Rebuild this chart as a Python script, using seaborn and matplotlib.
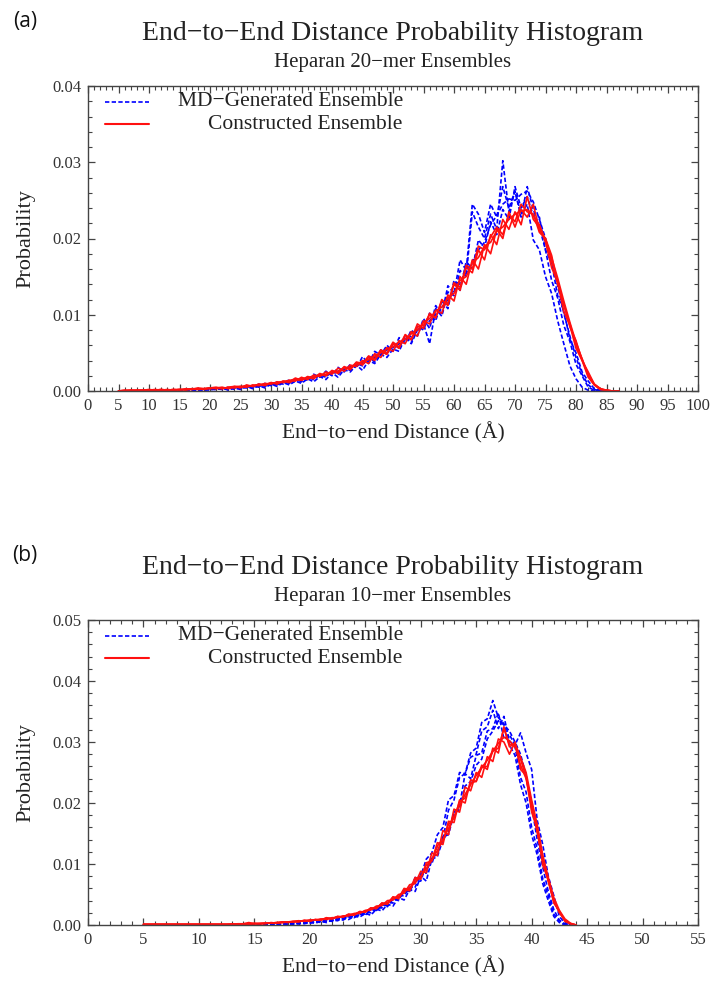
import numpy as np
import pandas as pd
import seaborn as sns
import matplotlib.pyplot as plt
from matplotlib.ticker import MultipleLocator, FormatStrFormatter
from matplotlib.lines import Line2D

# ---------------- data (probabilities in units of 1e-4) ----------------
# Panel (a): Heparan 20-mer, bins of 1 Å from 5 to 87
x_a = np.arange(5, 88, 1)
md_a_1 = [0,0,0,0,0,0,0,0,0,0, 0,0,1,3,1,2,2,4,1,4, 2,6,3,7,4,9,6,11,8,13,
          10,16,12,19,15,24,18,28,25,34, 27,40,36,48,44,55,52,70,62,80,
          88,62,108,98,130,125,158,150,235,215, 200,232,212,302,235,262,232,245,198,185,
          150,128,92,62,33,16,5,1,0,0, 0,0,0]
md_a_2 = [0,0,0,0,0,0,0,0,0,0, 0,0,0,1,3,1,4,2,5,2, 5,4,7,5,10,7,12,9,15,12,
          17,14,22,18,26,20,31,25,35,30, 45,36,52,47,60,52,70,63,80,72,
          95,82,112,100,138,128,172,158,245,232, 208,245,228,268,240,262,228,268,238,215,
          185,145,122,86,65,35,20,5,1,0, 0,0,0]
md_a_3 = [0,0,0,0,0,0,0,0,0,0, 0,0,0,2,1,3,2,4,2,5, 4,6,5,9,6,10,8,12,10,16,
          12,18,15,21,18,26,22,30,27,36, 33,45,38,54,48,62,56,72,64,85,
          80,102,92,118,108,145,132,170,160,198, 188,222,205,238,225,268,240,255,230,228,
          185,168,125,105,68,50,25,13,3,1, 0,0,0]
md_a_4 = [0,0,0,0,0,0,0,0,0,0, 0,0,1,1,2,2,3,2,3,4, 4,5,6,6,8,8,10,10,12,13,
          15,15,18,20,21,24,26,28,32,33, 38,40,44,48,54,57,62,68,72,78,
          85,92,100,108,120,130,142,155,170,185, 195,218,230,245,252,250,258,262,248,225,
          200,170,138,102,72,44,22,8,2,0, 0,0,0]
con_a_1 = [0,1,1,1,1,1,1,2,1,2, 2,2,3,2,3,4,3,4,4,5, 5,7,6,9,7,11,9,13,11,15,
           14,18,16,22,20,26,23,31,28,37, 34,44,40,52,48,62,56,73,67,84,
           86,100,96,120,112,140,132,162,155,185, 172,205,192,225,212,235,218,255,225,215,
           195,162,142,104,86,56,40,18,8,2, 1,0,0]
con_a_2 = [0,0,1,1,1,1,2,1,1,2, 1,3,2,3,3,4,5,3,5,4, 6,5,8,7,10,9,12,11,14,13,
           18,15,21,19,25,22,30,26,34,32, 40,36,49,44,57,52,66,62,78,72,
           92,88,106,102,126,118,150,140,172,160, 192,180,212,200,235,215,238,228,245,210,
           200,178,140,115,84,66,40,25,9,3, 1,0,0]
con_a_3 = [0,1,0,1,1,2,1,1,2,1, 2,2,2,4,3,3,4,3,5,6, 4,8,6,9,8,11,10,13,12,17,
           14,19,17,23,20,27,24,32,29,38, 36,46,42,54,50,64,58,74,68,88,
           82,102,96,118,115,142,136,165,160,190, 185,202,215,205,232,222,245,235,232,208,
           200,170,145,112,88,60,42,20,8,2, 1,0,0]
con_a_4 = [0,0,1,0,1,1,1,2,1,1, 2,1,3,3,2,4,4,5,3,6, 6,6,7,8,9,10,11,12,14,14,
           16,17,19,21,22,25,26,30,31,35, 39,41,46,50,55,58,64,68,75,80,
           90,95,105,110,122,128,145,150,168,175, 190,195,210,215,225,232,236,238,230,218,
           198,175,148,118,90,64,42,22,9,3, 1,0,0]

# Panel (b): Heparan 10-mer, bins of 0.5 Å from 5 to 44
x_b = np.arange(5.0, 44.25, 0.5)
md_b_1 = [0,0,0,0,0,0,0,0,0,0, 0,0,0,0,0,0,0,0,0,0,
          0,0,0,0,1,2,1,3,2,4, 3,6,4,7,6,10,8,14,12,18,
          16,26,24,34,30,44,40,58,55,78, 80,108,118,148,160,205,212,250,248,282,
          290,332,338,368,340,330,295,278,230,200, 148,115,68,40,14,4,0,0,0]
md_b_2 = [0,0,0,0,0,0,0,0,0,0, 0,0,0,0,0,0,0,0,0,0,
          0,0,0,0,0,1,2,1,3,2, 4,3,6,4,8,7,11,9,14,13,
          19,16,26,23,34,31,45,41,58,55, 80,72,108,112,140,152,185,195,248,240,
          278,282,318,322,348,305,312,295,315,282, 255,172,132,80,48,14,3,0,0]
md_b_3 = [0,0,0,0,0,0,0,0,0,0, 0,0,0,0,0,0,0,0,0,0,
          0,0,0,0,1,1,2,3,2,4, 4,5,6,8,7,11,10,14,13,18,
          18,25,24,32,32,42,42,55,55,72, 72,98,100,130,140,188,205,242,248,275,
          280,318,325,352,322,342,302,292,242,218, 160,125,76,48,18,7,1,0,0]
md_b_4 = [0,0,0,0,0,0,0,0,0,0, 0,0,0,0,0,0,0,0,0,0,
          0,0,0,1,0,2,1,2,3,3, 5,4,7,6,9,9,12,12,16,15,
          21,20,28,28,37,36,48,48,62,62, 85,85,112,115,145,148,182,190,228,235,
          262,272,305,318,335,328,318,300,280,245, 195,140,95,55,25,8,1,0,0]
con_b_1 = [1,1,1,1,1,1,1,1,1,1, 1,1,1,1,1,1,1,2,2,4,
           2,2,3,3,4,4,5,5,6,7, 7,9,8,11,10,14,13,17,16,22,
           21,28,27,36,34,46,43,58,56,75, 78,98,106,130,138,165,175,202,208,232,
           236,258,260,285,290,322,296,295,262,240, 192,152,106,72,38,21,7,2,0]
con_b_2 = [1,1,1,1,1,1,1,1,1,1, 1,1,1,1,1,1,2,1,2,2,
           3,2,2,4,3,5,4,6,5,8, 6,9,8,12,10,14,13,18,17,22,
           21,28,27,36,35,46,44,60,58,78, 75,102,105,135,132,170,168,205,200,238,
           235,262,255,290,282,325,292,298,275,250, 205,165,115,78,45,24,10,3,0]
con_b_3 = [1,1,1,1,1,1,1,1,1,1, 1,1,1,1,1,1,1,1,2,1,
           2,3,3,3,4,5,5,6,7,6, 8,8,10,9,12,12,15,15,19,19,
           24,25,31,32,40,41,50,52,66,68, 88,86,118,114,155,148,190,185,226,220,
           250,242,276,268,305,300,280,300,255,245, 185,160,98,75,36,23,6,2,0]
con_b_4 = [1,1,1,1,1,1,1,1,1,1, 1,1,1,1,1,1,1,1,1,2,
           2,2,3,3,3,4,5,5,6,7, 8,8,9,11,11,13,14,16,18,20,
           23,25,29,33,37,42,47,54,61,70, 80,92,106,122,140,158,178,196,214,230,
           245,258,270,285,298,308,302,292,272,242, 200,155,110,72,40,20,8,2,0]

titles = ["End\u2212to\u2212End Distance Probability Histogram"] * 2
subtitles = ["Heparan 20\u2212mer Ensembles", "Heparan 10\u2212mer Ensembles"]
panel_tags = ["(a)", "(b)"]
legend_labels = ["MD\u2212Generated Ensemble", "Constructed Ensemble"]
xlabel = "End\u2212to\u2212end Distance (\u00c5)"
ylabel = "Probability"
xlims = [(0, 100), (0, 55)]
ylims = [(0, 0.04), (0, 0.05)]


def long_df(x, series, kind):
    frames = []
    for i, s in enumerate(series):
        frames.append(pd.DataFrame({"x": x, "p": np.asarray(s) * 1e-4,
                                    "run": f"{kind}{i}"}))
    return pd.concat(frames, ignore_index=True)


panels = [
    (long_df(x_a, [md_a_1, md_a_2, md_a_3, md_a_4], "md"),
     long_df(x_a, [con_a_1, con_a_2, con_a_3, con_a_4], "con")),
    (long_df(x_b, [md_b_1, md_b_2, md_b_3, md_b_4], "md"),
     long_df(x_b, [con_b_1, con_b_2, con_b_3, con_b_4], "con")),
]

# ---------------- styling ----------------
sns.set_theme(style="ticks")
plt.rcParams["font.family"] = ["Liberation Serif", "DejaVu Serif"]
plt.rcParams["axes.unicode_minus"] = True

W, H = 713, 981
fig = plt.figure(figsize=(W / 100, H / 100), dpi=100)
ax_top = fig.add_axes([88 / W, 1 - 391 / H, 610 / W, 305 / H])
ax_bot = fig.add_axes([88 / W, 1 - 925 / H, 610 / W, 305 / H])
axes = [ax_top, ax_bot]
title_y = [34, 568]
sub_y = [62, 596]
tag_y = [22, 556]

BLUE = "#0000ff"
RED = "#ff1010"
dash = (0, (2.6, 1.4))

for k, ax in enumerate(axes):
    md_df, con_df = panels[k]
    sns.lineplot(data=md_df, x="x", y="p", units="run", estimator=None,
                 color=BLUE, linestyle=dash, lw=1.2, ax=ax, legend=False)
    sns.lineplot(data=con_df, x="x", y="p", units="run", estimator=None,
                 color=RED, lw=1.2, ax=ax, legend=False)
    ax.set_xlim(*xlims[k])
    ax.set_ylim(*ylims[k])
    ax.xaxis.set_major_locator(MultipleLocator(5))
    ax.xaxis.set_minor_locator(MultipleLocator(1))
    ax.yaxis.set_major_locator(MultipleLocator(0.01))
    ax.yaxis.set_minor_locator(MultipleLocator(0.002))
    ax.yaxis.set_major_formatter(FormatStrFormatter("%.2f"))
    ax.tick_params(which="both", direction="in", top=True, right=True,
                   colors="#444444", labelcolor="#333333", labelsize=12, pad=5)
    ax.tick_params(which="major", length=5, width=0.9)
    ax.tick_params(which="minor", length=3, width=0.8)
    for sp in ax.spines.values():
        sp.set_color("#444444")
        sp.set_linewidth(1.0)
    ax.set_xlabel(xlabel, fontsize=15.5, color="#222222", labelpad=6)
    ax.set_ylabel(ylabel, fontsize=16, color="#222222", labelpad=12)

    # gnuplot-style legend: sample line at left, right-aligned text
    ys = [0.948, 0.874]
    for (lbl, col, ls, y) in zip(legend_labels, [BLUE, RED], [dash, "-"], ys):
        ax.add_line(Line2D([0.028, 0.10], [y, y], transform=ax.transAxes,
                           color=col, linestyle=ls, lw=1.5 if ls == "-" else 1.2))
        ax.text(0.516, y, lbl, transform=ax.transAxes, ha="right", va="center",
                fontsize=15.5, color="#222222")

    cx = (88 + 698) / 2 / W
    fig.text(cx, 1 - title_y[k] / H, titles[k], ha="center", va="center",
             fontsize=20, color="#222222")
    fig.text(cx, 1 - sub_y[k] / H, subtitles[k], ha="center", va="center",
             fontsize=15, color="#222222")
    fig.text(25 / W, 1 - tag_y[k] / H, panel_tags[k], ha="center", va="center",
             fontsize=15, family=["Open Sans", "DejaVu Sans"], color="#111111")

fig.savefig("out.png", dpi=100)
